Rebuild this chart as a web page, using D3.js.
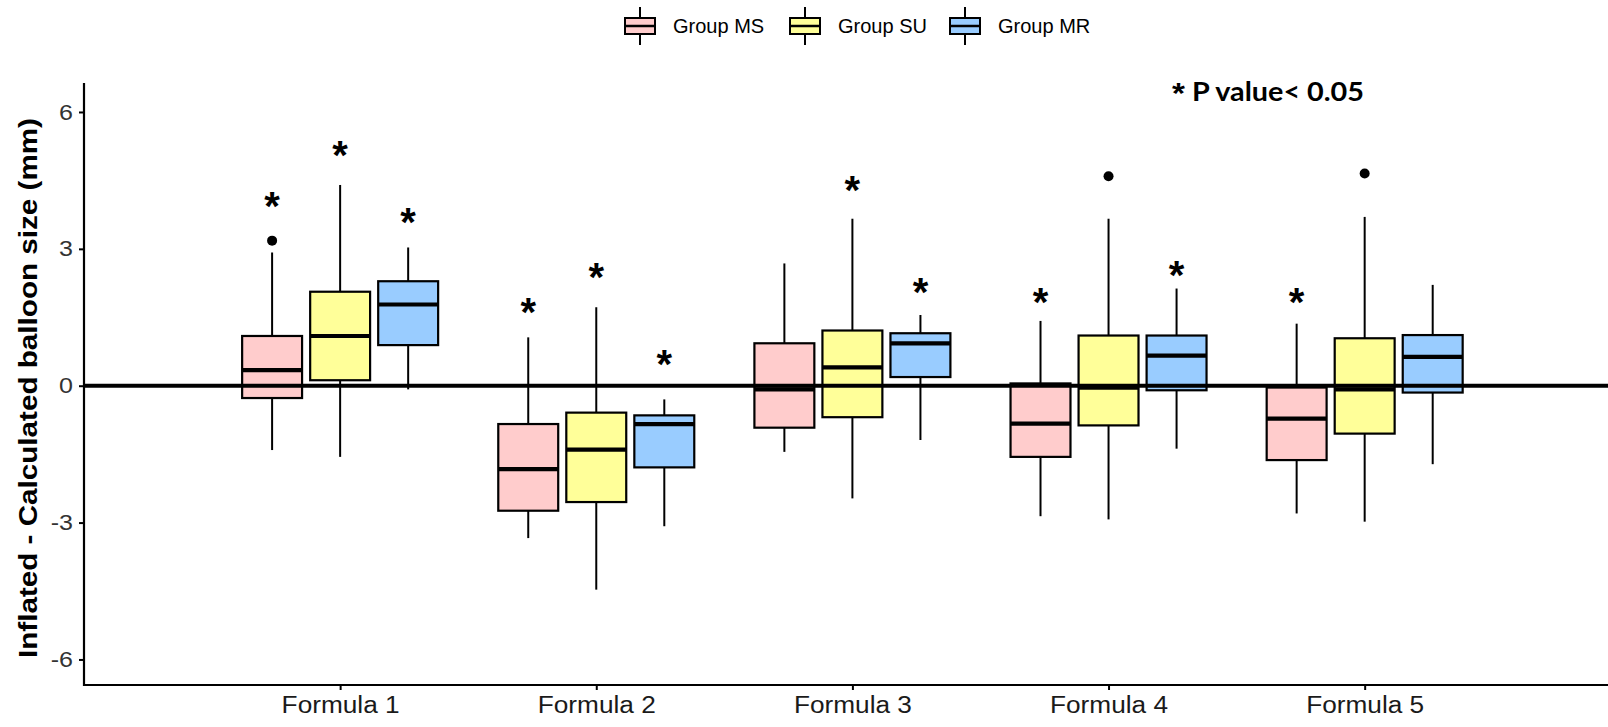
<!DOCTYPE html>
<html>
<head>
<meta charset="utf-8">
<script src="https://cdn.jsdelivr.net/npm/d3@7"></script>
<style>
  html, body { margin: 0; padding: 0; background: #fff; }
  svg { display: block; }
</style>
</head>
<body>
<svg id="chart" width="1608" height="727"></svg>
<script>
// ---------------- data ----------------
const categories = ["Formula 1", "Formula 2", "Formula 3", "Formula 4", "Formula 5"];
const groups = ["Group MS", "Group SU", "Group MR"];
const groupColors = ["#FFCCCC", "#FFFF99", "#99CCFF"];
const yTicks = [-6, -3, 0, 3, 6];

// five-number summaries per formula: [lower whisker, Q1, median, Q3, upper whisker]
const msStats = [[-1.41, -0.27, 0.34, 1.09, 2.92], [-3.34, -2.74, -1.83, -0.84, 1.06], [-1.45, -0.92, -0.08, 0.93, 2.68], [-2.86, -1.56, -0.83, 0.05, 1.42], [-2.80, -1.63, -0.72, -0.04, 1.36]];
const suStats = [[-1.56, 0.12, 1.09, 2.06, 4.40], [-4.47, -2.55, -1.40, -0.59, 1.72], [-2.47, -0.69, 0.40, 1.21, 3.66], [-2.93, -0.87, -0.04, 1.10, 3.66], [-2.98, -1.05, -0.08, 1.04, 3.70]];
const mrStats = [[-0.08, 0.89, 1.78, 2.29, 3.03], [-3.08, -1.79, -0.84, -0.65, -0.30], [-1.19, 0.19, 0.93, 1.15, 1.55], [-1.38, -0.10, 0.66, 1.10, 2.13], [-1.72, -0.15, 0.63, 1.11, 2.21]];

// outliers (null = none)
const msOutliers = [3.18, null, null, null, null];
const suOutliers = [null, null, null, 4.59, 4.65];
const mrOutliers = [null, null, null, null, null];

// significance star positions (null = no star)
const msStars = [4.11, 1.80, null, 2.02, 2.02];
const suStars = [5.24, 2.55, 4.47, null, null];
const mrStars = [3.76, 0.66, 2.23, 2.61, null];

const pStar = "*";
const pLabel = " P value< 0.05";
const yTitle = "Inflated - Calculated balloon size (mm)";

// ---------------- layout ----------------
const svg = d3.select("#chart");
const plotLeft = 84, plotRight = 1608, plotTop = 83, plotBottom = 685;

const x = d3.scaleLinear().domain([-1.0, 4.95]).range([plotLeft, plotRight]);
const y = d3.scaleLinear().domain([-6.56, 6.635]).range([plotBottom, plotTop]);

const dodge = 0.2656;   // in category units
const boxW = 0.234;

const allStats = [msStats, suStats, mrStats];
const allOut = [msOutliers, suOutliers, mrOutliers];
const allStars = [msStars, suStars, mrStars];

const font = "'Liberation Sans', Arial, sans-serif";

// widen text horizontally by a factor (reference text is wider than Arial)
function widen(sel, factor) {
  sel.each(function () {
    const w = this.getComputedTextLength();
    d3.select(this).attr("textLength", w * factor).attr("lengthAdjust", "spacingAndGlyphs");
  });
}

const plot = svg.append("g");

// boxes
allStats.forEach((stats, g) => {
  stats.forEach((s, i) => {
    const cx = x(i + (g - 1) * dodge);
    const x0 = x(i + (g - 1) * dodge - boxW / 2);
    const x1 = x(i + (g - 1) * dodge + boxW / 2);
    const grp = plot.append("g");
    grp.append("line").attr("x1", cx).attr("x2", cx).attr("y1", y(s[4])).attr("y2", y(s[3]))
      .attr("stroke", "#000").attr("stroke-width", 2);
    grp.append("line").attr("x1", cx).attr("x2", cx).attr("y1", y(s[1])).attr("y2", y(s[0]))
      .attr("stroke", "#000").attr("stroke-width", 2);
    grp.append("rect").attr("x", x0).attr("y", y(s[3])).attr("width", x1 - x0).attr("height", y(s[1]) - y(s[3]))
      .attr("fill", groupColors[g]).attr("stroke", "#000").attr("stroke-width", 2.2);
    grp.append("line").attr("x1", x0).attr("x2", x1).attr("y1", y(s[2])).attr("y2", y(s[2]))
      .attr("stroke", "#000").attr("stroke-width", 4.2);
    const o = allOut[g][i];
    if (o !== null) {
      grp.append("circle").attr("cx", cx).attr("cy", y(o)).attr("r", 5).attr("fill", "#000");
    }
  });
});

// zero reference line (on top of boxes)
plot.append("line").attr("x1", plotLeft).attr("x2", plotRight).attr("y1", y(0)).attr("y2", y(0))
  .attr("stroke", "#000").attr("stroke-width", 4);

// stars
allStars.forEach((stars, g) => {
  stars.forEach((v, i) => {
    if (v === null) return;
    plot.append("text")
      .attr("x", x(i + (g - 1) * dodge))
      .attr("y", y(v) + 22)
      .attr("text-anchor", "middle")
      .attr("font-family", font)
      .attr("font-weight", "bold")
      .attr("font-size", 40)
      .attr("fill", "#000")
      .text("*");
  });
});

// P value note
const pText = svg.append("text")
  .attr("x", 1172).attr("y", 101)
  .attr("font-family", "Lato, 'Open Sans', sans-serif")
  .attr("font-weight", "bold")
  .attr("font-size", 26)
  .attr("fill", "#000");
pText.append("tspan").attr("font-family", font).attr("font-size", 30).attr("dy", 2).text(pStar);
pText.append("tspan").attr("dy", -2).text(pLabel);
pText.attr("textLength", 192).attr("lengthAdjust", "spacingAndGlyphs");

// axes
const yAxis = d3.axisLeft(y).tickValues(yTicks).tickSize(5).tickPadding(6).tickFormat(d => String(d));
const gy = svg.append("g").attr("transform", `translate(${plotLeft},0)`).call(yAxis);
gy.select(".domain").remove();
gy.selectAll(".tick line").attr("stroke", "#000").attr("stroke-width", 2);
gy.selectAll(".tick text").attr("font-family", font).attr("font-size", 22).attr("fill", "#333");
widen(gy.selectAll(".tick text"), 1.14);
svg.append("line").attr("x1", plotLeft).attr("x2", plotLeft).attr("y1", plotTop).attr("y2", plotBottom + 1)
  .attr("stroke", "#000").attr("stroke-width", 2.2);

const xAxis = d3.axisBottom(x).tickValues(d3.range(categories.length)).tickSize(5).tickPadding(7)
  .tickFormat(i => categories[i]);
const gx = svg.append("g").attr("transform", `translate(0,${plotBottom})`).call(xAxis);
gx.select(".domain").remove();
gx.selectAll(".tick line").attr("stroke", "#000").attr("stroke-width", 2);
gx.selectAll(".tick text").attr("font-family", font).attr("font-size", 23).attr("fill", "#1a1a1a");
widen(gx.selectAll(".tick text"), 1.14);
svg.append("line").attr("x1", plotLeft - 1).attr("x2", plotRight).attr("y1", plotBottom).attr("y2", plotBottom)
  .attr("stroke", "#000").attr("stroke-width", 2.2);

// y title
svg.append("text")
  .attr("transform", `translate(37,${(plotTop + plotBottom) / 2 + 4}) rotate(-90)`)
  .attr("text-anchor", "middle")
  .attr("font-family", font)
  .attr("font-weight", "bold")
  .attr("font-size", 25)
  .attr("fill", "#000")
  .text(yTitle)
  .attr("textLength", 540)
  .attr("lengthAdjust", "spacingAndGlyphs");

// legend
const legendX = [625, 790, 950];
const legend = svg.append("g");
groups.forEach((name, g) => {
  const lx = legendX[g], cy = 26;
  legend.append("line").attr("x1", lx + 15).attr("x2", lx + 15).attr("y1", 7).attr("y2", 45)
    .attr("stroke", "#000").attr("stroke-width", 2);
  legend.append("rect").attr("x", lx).attr("y", cy - 8).attr("width", 30).attr("height", 16)
    .attr("fill", groupColors[g]).attr("stroke", "#000").attr("stroke-width", 2);
  legend.append("line").attr("x1", lx).attr("x2", lx + 30).attr("y1", cy).attr("y2", cy)
    .attr("stroke", "#000").attr("stroke-width", 2.5);
  legend.append("text").attr("x", lx + 48).attr("y", cy).attr("dy", "0.36em")
    .attr("font-family", font).attr("font-size", 20).attr("fill", "#000").text(name);
});
</script>
</body>
</html>
